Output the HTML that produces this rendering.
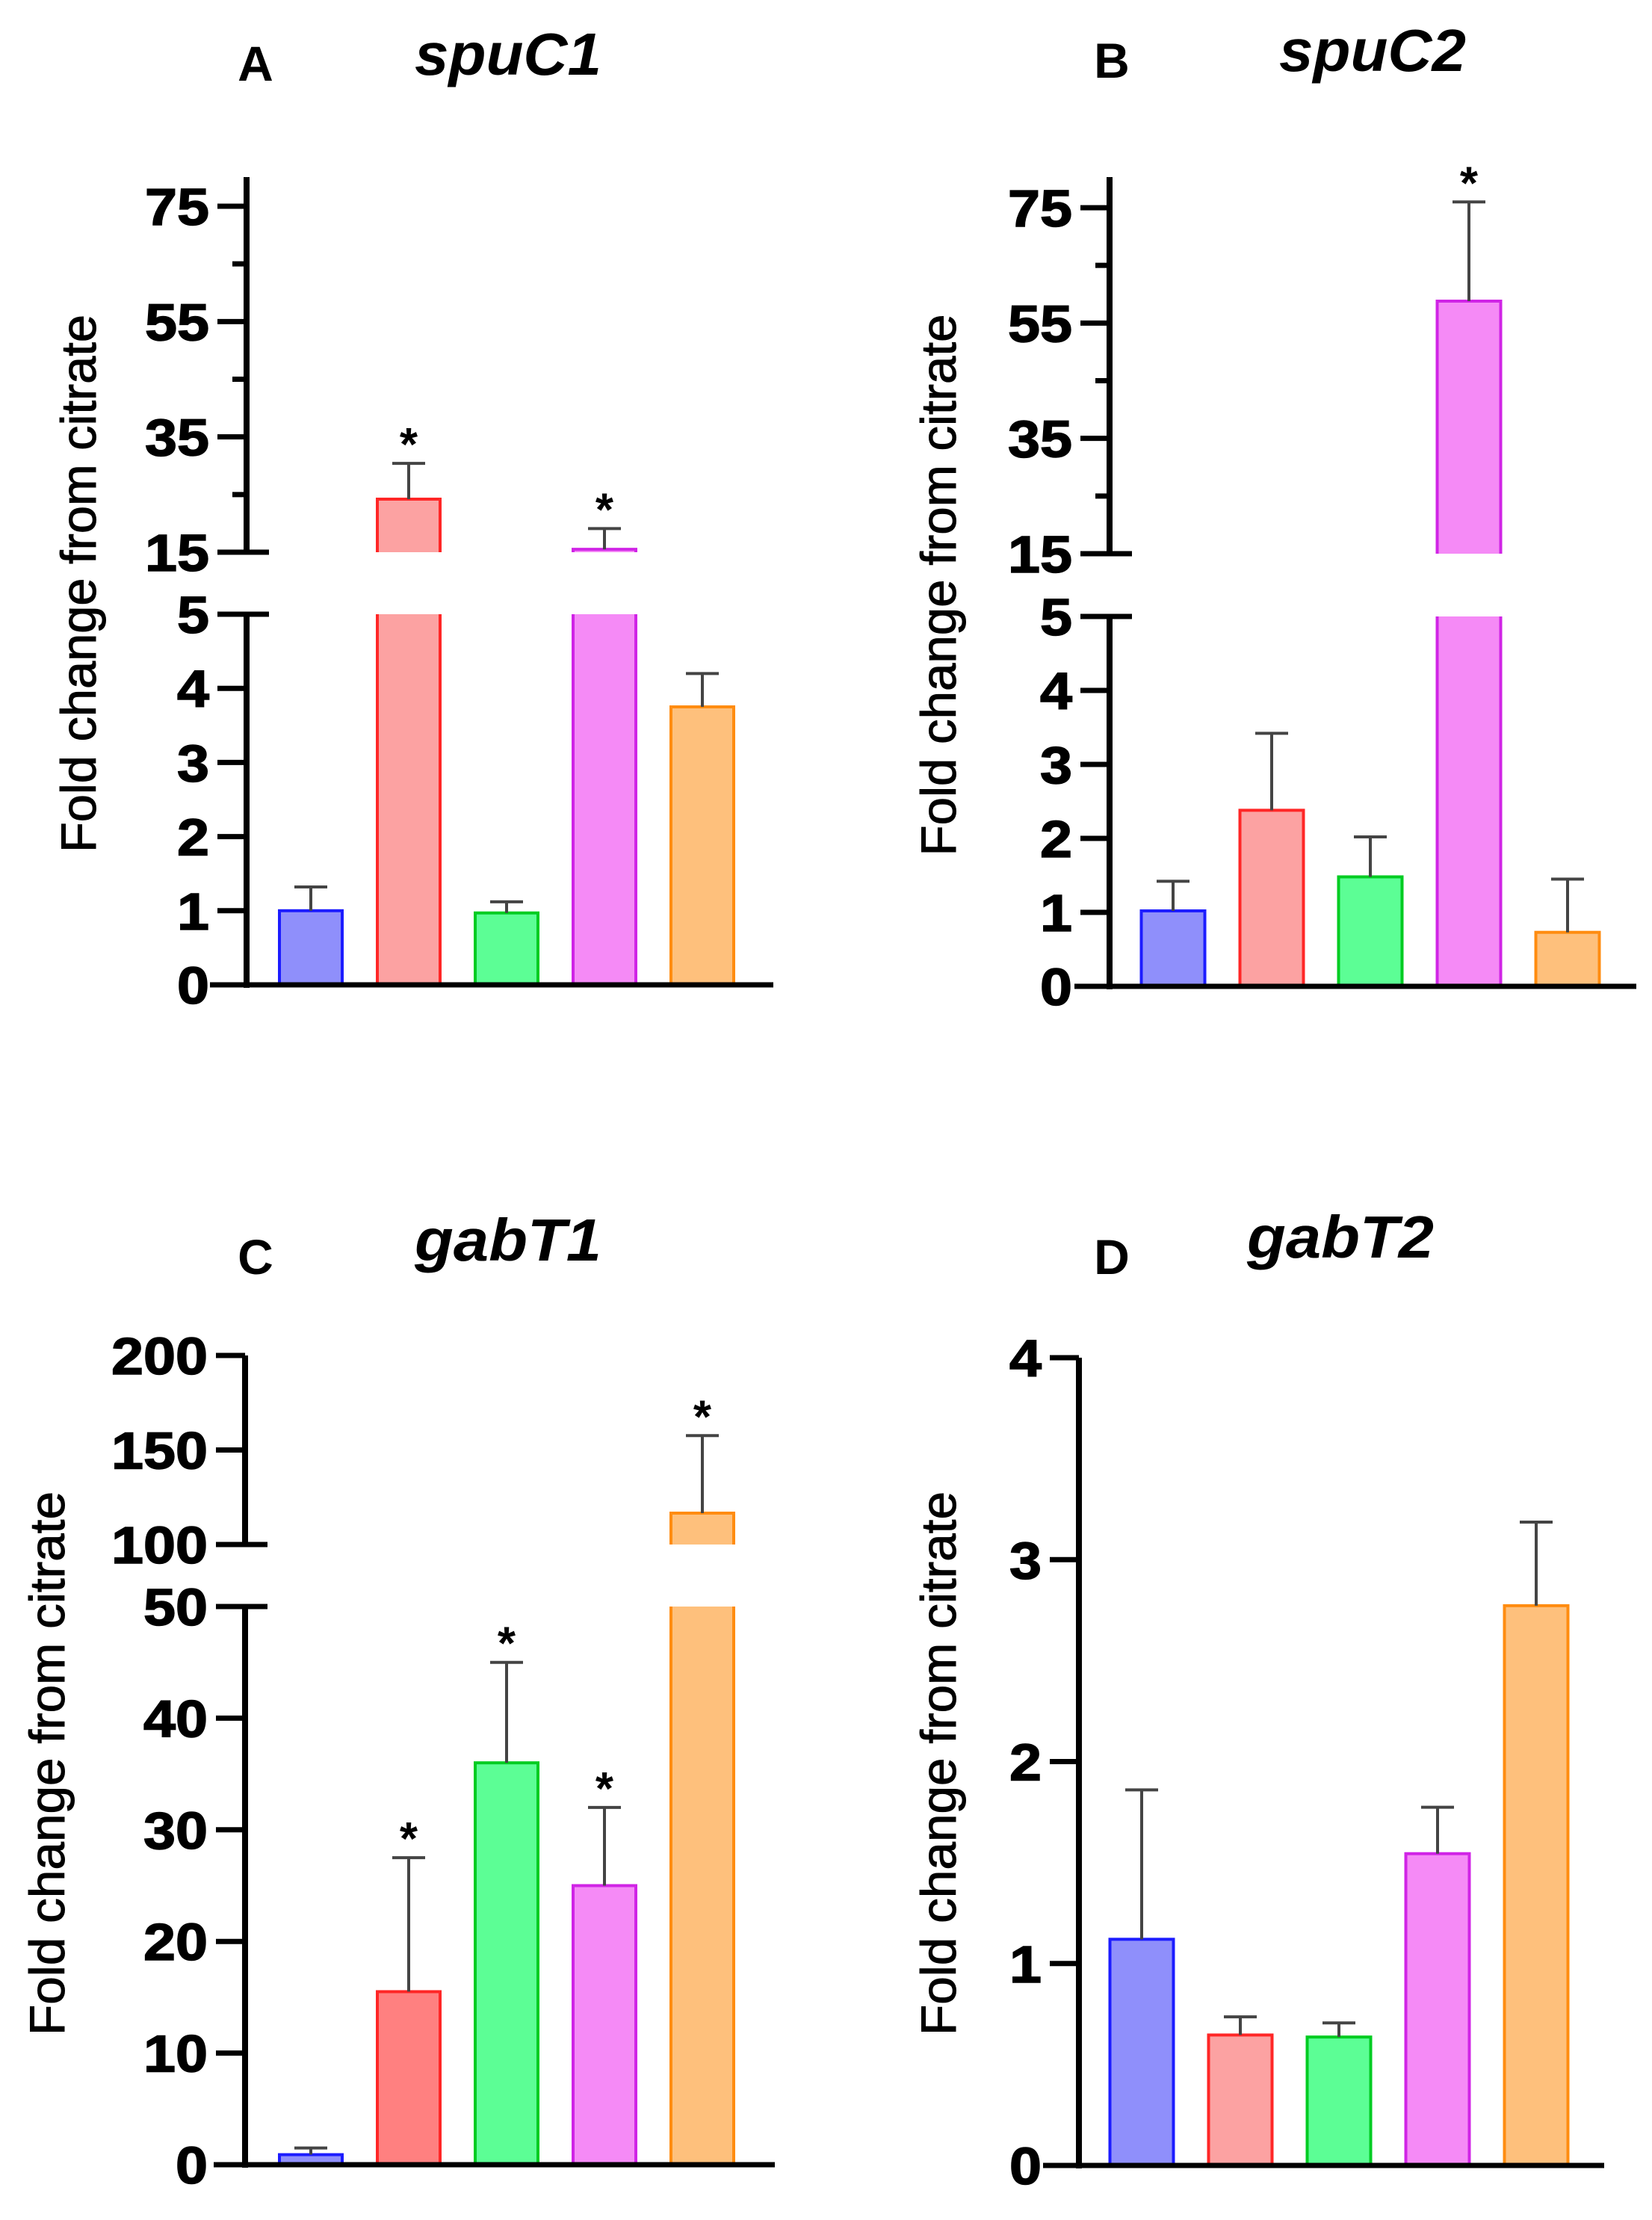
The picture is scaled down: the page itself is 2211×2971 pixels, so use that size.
<!DOCTYPE html>
<html><head><meta charset="utf-8">
<style>
html,body{margin:0;padding:0;background:#fff;}
svg{display:block;}
text{font-family:"Liberation Sans",sans-serif;}
</style></head>
<body>
<svg id="fig" width="2211" height="2971" viewBox="0 0 2211 2971" xmlns="http://www.w3.org/2000/svg">
<rect width="2211" height="2971" fill="#fff"/>
</svg>
<script>
// ---- data ----
const conditions = ["cond-1","cond-2","cond-3","cond-4","cond-5"];
const spuC1Values = [1.0, 24.2, 0.97, 15.5, 3.75];
const spuC1Errors = [0.32, 6.2, 0.15, 3.6, 0.45];
const spuC2Values = [1.02, 2.38, 1.48, 58.8, 0.73];
const spuC2Errors = [0.40, 1.04, 0.54, 17.2, 0.72];
const gabT1Values = [0.9, 15.5, 36, 25, 116.6];
const gabT1Errors = [0.6, 12, 9, 7, 41];
const gabT2Values = [1.12, 0.646, 0.636, 1.544, 2.772];
const gabT2Errors = [0.74, 0.09, 0.07, 0.23, 0.414];
const spuLowTicks = [0,1,2,3,4,5];
const spuHighTicks = [15,35,55,75];
const spuHighMinor = [25,45,65];
const gabT1LowTicks = [0,10,20,30,40,50];
const gabT1HighTicks = [100,150,200];
const gabT2Ticks = [0,1,2,3,4];
const significant = {
  spuC1:[false,true,false,true,false],
  spuC2:[false,false,false,true,false],
  gabT1:[false,true,true,true,true],
  gabT2:[false,false,false,false,false]
};

const fills = ["#8f8ffb","#fca2a2","#5cfe95","#f58af6","#fec07c"];
const strokes = ["#1c1cff","#ff2626","#00cc22","#d024e6","#ff8c10"];

const NS = "http://www.w3.org/2000/svg";
const svg = document.getElementById("fig");
function mk(tag, attrs, parent){
  const e = document.createElementNS(NS, tag);
  for (const k in attrs) e.setAttribute(k, attrs[k]);
  (parent||svg).appendChild(e);
  return e;
}

function drawPanel(p){
  const g = mk("g",{});
  
  
  const segs = p.segs;
  const pf = p.fills || fills;
  function yOf(v){
    const s = (segs.length>1 && v>segs[0].hi) ? segs[segs.length-1] : segs[0];
    return s.yLo + (v - s.lo)/(s.hi - s.lo)*(s.yHi - s.yLo);
  }
  function ySeg(s,v){ return s.yLo + (v - s.lo)/(s.hi - s.lo)*(s.yHi - s.yLo); }

  const L = mk("text",{x:p.letterX,y:p.letterY,"font-size":66,"font-weight":"bold","text-anchor":"middle"},g);
  L.textContent = p.letter;
  
  
  const T = mk("text",{x:p.titleX,y:p.titleY,"font-size":80,"font-weight":"bold","font-style":"italic","text-anchor":"middle",textLength:p.titleW,lengthAdjust:"spacingAndGlyphs"},g);
  T.textContent = p.title;
  
  
  const yt = mk("text",{x:0,y:0,"font-size":66,"text-anchor":"middle",stroke:"#000","stroke-width":1,textLength:p.ytLen,lengthAdjust:"spacingAndGlyphs",transform:`translate(${p.ytX},${p.ytY}) rotate(-90)`},g);
  yt.textContent = "Fold  change  from citrate";
  
  

  const ax = p.axisX;
  segs.forEach((s,i)=>{
    const top = (i===segs.length-1 && p.axisTop!==undefined) ? p.axisTop : s.yHi;
    const al = mk("line",{x1:ax,y1:s.yLo+ (i===0?4:0),x2:ax,y2:top,stroke:"#000","stroke-width":8},g);
    
    
  });
  p.ticks.forEach(tk=>{
    const s = tk.seg, v = tk.v;
    const y = ySeg(s,v);
    const brk = tk.brk;
    const tl = mk("line",{x1:ax-39,y1:y,x2:brk?ax+30:ax,y2:y,stroke:"#000","stroke-width":7},g);
    
    
    const lab = String(v);
    const tx = mk("text",{x:ax-50,y:y+25,"font-size":70,"font-weight":"bold","text-anchor":"end",stroke:"#000","stroke-width":1.5,textLength:lab.length*43,lengthAdjust:"spacingAndGlyphs"},g);
    tx.textContent = lab;
    
    
  });
  (p.minor||[]).forEach(tk=>{
    const y = ySeg(tk.seg, tk.v);
    const ml = mk("line",{x1:ax-19,y1:y,x2:ax,y2:y,stroke:"#000","stroke-width":7},g);
    
    
  });
  const vals = p.values, errs = p.errors;
  vals.forEach((v,i)=>{
    const cx = p.x0 + i*p.step;
    const x = cx - p.bw/2, w = p.bw;
    const bg = mk("g",{},g);
    
    
    const s0 = segs[0];
    const y0 = s0.yLo;
    if (segs.length>1 && v > s0.hi){
      const yb = s0.yHi;
      mk("rect",{x:x,y:yb,width:w,height:y0-yb,fill:pf[i]},bg);
      mk("path",{d:`M${x},${yb} V${y0} H${x+w} V${yb}`,fill:"none",stroke:strokes[i],"stroke-width":4},bg);
      const s1 = segs[segs.length-1];
      const yu = ySeg(s1,v), yl = s1.yLo;
      mk("rect",{x:x,y:yu,width:w,height:yl-yu,fill:pf[i]},bg);
      mk("path",{d:`M${x},${yl} V${yu} H${x+w} V${yl}`,fill:"none",stroke:strokes[i],"stroke-width":4},bg);
    } else {
      const yv = yOf(v);
      mk("rect",{x:x,y:yv,width:w,height:y0-yv,fill:pf[i],stroke:strokes[i],"stroke-width":4},bg);
    }
    const ye = yOf(v+errs[i]);
    const yv = yOf(v);
    const eb = mk("path",{d:`M${cx},${yv} V${ye} M${cx-22},${ye} H${cx+22}`,stroke:"#444","stroke-width":4,fill:"none"},g);
    
    
    if (p.sig[i]){
      const st = mk("text",{x:cx,y:ye-4,"font-size":62,"font-weight":"bold","text-anchor":"middle"},g);
      st.textContent = "*";
      
      
    }
  });
  const xl = mk("line",{x1:p.xa1,y1:segs[0].yLo,x2:p.xa2,y2:segs[0].yLo,stroke:"#000","stroke-width":7},g);
  
  
}

(function(){
  const low = {lo:0,hi:5,yLo:1318,yHi:822};
  const high = {lo:15,hi:75,yLo:739,yHi:276};
  drawPanel({key:"spuC1",letter:"A",letterX:342,letterY:108,title:"spuC1",titleX:680,titleY:100,titleW:250,
    ytX:128,ytY:781,ytLen:720,axisX:330,axisTop:237,segs:[low,high],
    ticks:spuLowTicks.map(v=>({seg:low,v:v,brk:v===5})).concat(spuHighTicks.map(v=>({seg:high,v:v,brk:v===15}))),
    minor:spuHighMinor.map(v=>({seg:high,v:v})),
    values:spuC1Values,errors:spuC1Errors,sig:significant.spuC1,
    x0:416,step:131,bw:84,xa1:281,xa2:1035});
})();
(function(){
  const low = {lo:0,hi:5,yLo:1320,yHi:825};
  const high = {lo:15,hi:75,yLo:741,yHi:278};
  drawPanel({key:"spuC2",letter:"B",letterX:1488,letterY:104,title:"spuC2",titleX:1837,titleY:95,titleW:250,
    ytX:1279,ytY:783,ytLen:725,axisX:1485,axisTop:237,segs:[low,high],
    ticks:spuLowTicks.map(v=>({seg:low,v:v,brk:v===5})).concat(spuHighTicks.map(v=>({seg:high,v:v,brk:v===15}))),
    minor:spuHighMinor.map(v=>({seg:high,v:v})),
    values:spuC2Values,errors:spuC2Errors,sig:significant.spuC2,
    x0:1570,step:132,bw:85,xa1:1438,xa2:2190});
})();
(function(){
  const low = {lo:0,hi:50,yLo:2897,yHi:2150};
  const high = {lo:100,hi:200,yLo:2067,yHi:1814};
  drawPanel({key:"gabT1",letter:"C",letterX:342,letterY:1705,title:"gabT1",titleX:680,titleY:1687,titleW:250,
    ytX:86,ytY:2360,ytLen:728,axisX:328,segs:[low,high],
    ticks:gabT1LowTicks.map(v=>({seg:low,v:v,brk:v===50})).concat(gabT1HighTicks.map(v=>({seg:high,v:v,brk:v===100}))),
    minor:[],
    fills:["#8f8ffb","#ff8080","#5cfe95","#f58af6","#fec07c"],
    values:gabT1Values,errors:gabT1Errors,sig:significant.gabT1,
    x0:416,step:131,bw:84,xa1:286,xa2:1037});
})();
(function(){
  const seg = {lo:0,hi:4,yLo:2898,yHi:1817};
  drawPanel({key:"gabT2",letter:"D",letterX:1488,letterY:1705,title:"gabT2",titleX:1794,titleY:1683,titleW:250,
    ytX:1279,ytY:2360,ytLen:728,axisX:1444,segs:[seg],
    ticks:gabT2Ticks.map(v=>({seg:seg,v:v,brk:false})),
    minor:[],
    values:gabT2Values,errors:gabT2Errors,sig:significant.gabT2,
    x0:1528,step:132,bw:85,xa1:1396,xa2:2147});
})();
</script>
</body></html>
